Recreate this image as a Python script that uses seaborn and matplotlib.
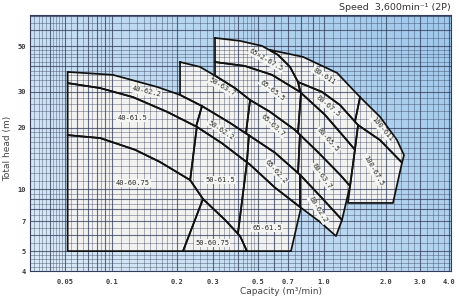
import numpy as np
import matplotlib
matplotlib.use('Agg')
import matplotlib.pyplot as plt
from matplotlib.ticker import NullLocator
import seaborn as sns

# ---------------- data (capacity m3/min, total head m) ----------------
X_TICKS = [0.05, 0.1, 0.2, 0.3, 0.5, 0.7, 1.0, 2.0, 3.0, 4.0]
X_TICK_LABELS = ['0.05', '0.1', '0.2', '0.3', '0.5', '0.7', '1.0', '2.0', '3.0', '4.0']
Y_TICKS = [4, 5, 7, 10, 20, 30, 50]
Y_TICK_LABELS = ['4', '5', '7', '10', '20', '30', '50']

C22_Q = [0.052, 0.101, 0.162, 0.207, 0.265, 0.364, 0.457, 0.605, 0.788, 0.980, 1.223]
C22_H = [37.4, 36.2, 31.6, 28.9, 25.5, 21.1, 18.2, 15.1, 11.8, 9.08, 7.10]
C15_Q = [0.052, 0.084, 0.125, 0.180, 0.250, 0.332, 0.457, 0.605, 0.788, 0.961, 1.144]
C15_H = [33.0, 31.2, 28.2, 23.9, 20.2, 16.8, 13.2, 10.2, 8.21, 6.94, 5.92]
C075_Q = [0.052, 0.084, 0.128, 0.167, 0.232, 0.268, 0.344, 0.408, 0.441, 0.79]
C075_H = [18.4, 17.8, 15.6, 13.6, 11.1, 8.98, 7.10, 5.92, 5.0, 5.0]
C37_Q = [0.207, 0.259, 0.314, 0.385, 0.457, 0.572, 0.750, 0.942, 1.196, 1.337]
C37_H = [41.8, 39.6, 35.4, 31.2, 27.3, 23.9, 19.5, 15.2, 11.8, 10.4]
C55_Q = [0.307, 0.431, 0.585, 0.788, 1.011, 1.265, 1.414]
C55_H = [41.8, 40.0, 36.2, 29.9, 23.1, 17.8, 15.6]
C75_Q = [0.773, 0.980, 1.196, 1.463, 1.871, 2.421]
C75_H = [33.4, 29.9, 25.8, 20.6, 17.4, 13.5]
C11_Q = [0.572, 0.812, 1.157, 1.496, 1.871, 2.280, 2.479]
C11_H = [47.9, 44.3, 37.0, 28.2, 22.6, 17.4, 14.7]
C65X2_Q = [0.307, 0.408, 0.523, 0.626, 0.714, 0.773]
C65X2_H = [54.8, 53.0, 50.1, 45.3, 39.6, 33.4]
FLOOR_Q = [0.04, 1.0]
FLOOR_H = [5.0, 5.0]
FLOOR100_Q = [1.25, 2.3]
FLOOR100_H = [8.59, 8.59]

CURVES = {
    'C22': (C22_Q, C22_H), 'C15': (C15_Q, C15_H), 'C075': (C075_Q, C075_H),
    'C37': (C37_Q, C37_H), 'C55': (C55_Q, C55_H), 'C75': (C75_Q, C75_H),
    'C11': (C11_Q, C11_H), 'C65X2': (C65X2_Q, C65X2_H),
    'FLOOR': (FLOOR_Q, FLOOR_H), 'FLOOR100': (FLOOR100_Q, FLOOR100_H),
}

# name, top curve, top q from, top q to, bottom curve, bottom q from, bottom q to
REGIONS = [
    ('40-62.2', 'C22', 0.052, 0.265, 'C15', 0.052, 0.248),
    ('40-61.5', 'C15', 0.052, 0.250, 'C075', 0.052, 0.232),
    ('40-60.75', 'C075', 0.052, 0.268, 'FLOOR', 0.052, 0.214),
    ('50-63.7', 'C37', 0.207, 0.457, 'C22', 0.207, 0.436),
    ('50-62.2', 'C22', 0.265, 0.451, 'C15', 0.248, 0.441),
    ('50-61.5', 'C15', 0.250, 0.441, 'C075', 0.232, 0.398),
    ('50-60.75', 'C075', 0.268, 0.441, 'FLOOR', 0.214, 0.441),
    ('65×2-67.5', 'C65X2', 0.307, 0.773, 'C55', 0.307, 0.788),
    ('65-65.5', 'C55', 0.307, 0.796, 'C37', 0.307, 0.773),
    ('65-63.7', 'C37', 0.457, 0.788, 'C22', 0.436, 0.773),
    ('65-62.2', 'C22', 0.451, 0.788, 'C15', 0.441, 0.788),
    ('65-61.5', 'C15', 0.441, 0.796, 'C075', 0.398, 0.721),
    ('80-67.5', 'C75', 0.773, 1.463, 'C55', 0.796, 1.414),
    ('80-65.5', 'C55', 0.796, 1.414, 'C37', 0.773, 1.337),
    ('80-63.7', 'C37', 0.788, 1.337, 'C22', 0.773, 1.223),
    ('80-62.2', 'C22', 0.788, 1.223, 'C15', 0.788, 1.144),
    ('100-611', 'C11', 1.496, 2.479, 'C75', 1.414, 2.421),
    ('100-67.5', 'C75', 1.463, 2.421, 'FLOOR100', 1.307, 2.174),
]

LABELS = ['40-62.2', '40-61.5', '40-60.75', '50-63.7', '50-62.2', '50-61.5', '50-60.75',
          '65×2-67.5', '65-65.5', '65-63.7', '65-62.2', '65-61.5',
          '80-611', '80-67.5', '80-65.5', '80-63.7', '80-62.2', '100-611', '100-67.5']
LABEL_Q = [0.144, 0.124, 0.125, 0.332, 0.328, 0.325, 0.297,
           0.547, 0.585, 0.592, 0.612, 0.553,
           1.00, 1.046, 1.046, 0.980, 0.942, 1.912, 1.729]
LABEL_H = [29.9, 22.3, 10.75, 31.6, 19.5, 11.1, 5.48,
           42.8, 30.5, 20.4, 12.2, 6.48,
           35.8, 25.5, 17.4, 11.6, 7.94, 19.7, 12.4]
LABEL_ROT = [-13, 0, 0, -30, -33, 0, 0,
             -30, -38, -42, -48, 0,
             -33, -40, -48, -55, -58, -50, -60]

# ---------------- helpers ----------------
def seg(name, q0, q1):
    qs, hs = CURVES[name]
    lq, lh = np.log10(qs), np.log10(hs)
    a, b = np.log10(q0), np.log10(q1)
    pts = [(a, np.interp(a, lq, lh))]
    pts += [(u, v) for u, v in zip(lq, lh) if a < u < b]
    pts += [(b, np.interp(b, lq, lh))]
    return [(10 ** u, 10 ** v) for u, v in pts]

# chart's printed capacity axis (label positions)
_LA = np.log10([1e-9, 0.03, 0.05, 0.1, 0.2, 0.3, 0.5, 0.7, 1.0, 2.0, 3.0, 4.0, 4.08, 1e9])
_POS = np.array([30 - 205 * (np.log10(0.03) + 9), 30, 65, 112, 177, 213, 258, 288, 324,
                 386, 420, 449, 451, 451 + 205 * (9 - np.log10(4.08))])

def _fwd(x):
    x = np.asarray(x, float)
    return np.interp(np.log10(np.clip(x, 1e-9, 1e9)), _LA, _POS)

def _inv(p):
    return 10.0 ** np.interp(np.asarray(p, float), _POS, _LA)

# ---------------- figure ----------------
sns.set_theme(style='white')
plt.rcParams['font.family'] = ['DejaVu Sans']

fig = plt.figure(figsize=(4.59, 3.0), dpi=100)
fig.patch.set_facecolor('white')
rect = [30 / 459, 29 / 300, 421 / 459, 256 / 300]

bg = fig.add_axes(rect, zorder=0)
u = np.linspace(0, 1, 240)[None, :]
v = np.linspace(0, 1, 160)[:, None]
t = np.clip(0.72 * u + 0.38 * v - 0.05, 0, 1)
c0 = np.array([0.85, 0.915, 0.965])
c1 = np.array([0.63, 0.79, 0.925])
img = c0 * (1 - t[..., None]) + c1 * t[..., None]
bg.imshow(img, extent=[0, 1, 0, 1], origin='lower', aspect='auto', interpolation='bilinear')
bg.set_xlim(0, 1); bg.set_ylim(0, 1)
bg.axis('off')

ax = fig.add_axes(rect, zorder=1)
ax.patch.set_alpha(0)
ax.set_xscale('function', functions=(_fwd, _inv))
ax.set_yscale('log')

# regions
polys = []
for name, top, t0, t1, bot, b0, b1 in REGIONS:
    pts = seg(top, t0, t1) + seg(bot, b0, b1)[::-1]
    polys.append(pts)
# 80-611 : outer curve on top, bounded on the left by the 65x2 curve
pts = seg('C11', 0.572, 1.496) + seg('C75', 0.773, 1.414)[::-1] + seg('C65X2', 0.572, 0.773)[::-1]
polys.append(pts)

for pts in polys:
    xs = [p[0] for p in pts]
    ys = [p[1] for p in pts]
    ax.fill(xs, ys, color='#f2f2f0', lw=0, zorder=1.5)

# graph-paper grid
mant = np.r_[np.arange(1, 2, 0.1), np.arange(2, 5, 0.2), np.arange(5, 10, 0.5)]
gx, gy = [], []
for d in [0.01, 0.1, 1.0, 10.0]:
    for m in mant:
        val = round(m * d, 6)
        if 0.03 < val < 4.08:
            gx.append((val, abs(m - round(m)) < 1e-6))
        if 4.0 < val < 70.9:
            gy.append((val, abs(m - round(m)) < 1e-6))
for val, major in gx:
    ax.axvline(val, color='#343c5a', lw=0.8 if major else 0.5, alpha=0.75 if major else 0.55, zorder=2)
for val, major in gy:
    ax.axhline(val, color='#343c5a', lw=0.8 if major else 0.5, alpha=0.75 if major else 0.55, zorder=2)

# outlines
for pts in polys:
    xs = [p[0] for p in pts] + [pts[0][0]]
    ys = [p[1] for p in pts] + [pts[0][1]]
    sns.lineplot(x=xs, y=ys, sort=False, estimator=None, color='#111111', lw=1.25,
                 ax=ax, zorder=3, legend=False)

# labels
for name, q, h, r in zip(LABELS, LABEL_Q, LABEL_H, LABEL_ROT):
    ax.text(q, h, name, rotation=r, ha='center', va='center', rotation_mode='anchor',
            fontsize=5.0, family='DejaVu Sans Mono', color='#2a2a2a', zorder=5,
            bbox=dict(boxstyle='square,pad=0.12', fc='#f4f4f2', ec='none'))

ax.set_xlim(0.03, 4.08)
ax.set_ylim(4, 70.9)
ax.set_xlabel('')
ax.set_ylabel('')
ax.set_xticks(X_TICKS)
ax.set_xticklabels(X_TICK_LABELS, fontsize=5, family='DejaVu Sans Mono', fontweight='bold', color='#3a3a3a')
ax.set_yticks(Y_TICKS)
ax.set_yticklabels(Y_TICK_LABELS, fontsize=5, family='DejaVu Sans Mono', fontweight='bold', color='#3a3a3a')
ax.xaxis.set_minor_locator(NullLocator())
ax.yaxis.set_minor_locator(NullLocator())
ax.tick_params(axis='x', length=0, pad=6)
ax.tick_params(axis='y', length=0, pad=3)
ax.grid(False)
for s in ax.spines.values():
    s.set_color('#353d5c')
    s.set_linewidth(0.8)

fig.text(451 / 459, 1 - 7 / 300, 'Speed  3,600min⁻¹ (2P)', ha='right', va='center',
         fontsize=6.8, color='#333333')
fig.text(281 / 459, 1 - 292 / 300, 'Capacity (m³/min)', ha='center', va='center',
         fontsize=6.5, color='#444444')
fig.text(8 / 459, 1 - 148 / 300, 'Total head (m)', rotation=90, ha='center', va='center',
         fontsize=6.5, color='#444444')

fig.savefig('out.png', dpi=100)
